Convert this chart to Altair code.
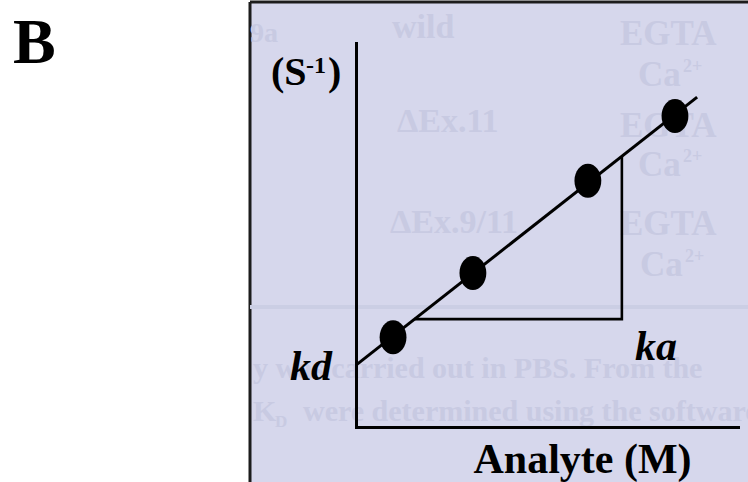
import altair as alt
import pandas as pd

# Observed association rate vs analyte concentration
conc = [0.97, 3.06, 6.07, 8.35]
rate = [2.34, 4.01, 6.41, 8.10]

# Linear fit through the points: intercept gives kd, slope gives ka
fit_x = [0.0, 8.93]
fit_y = [1.61, 8.59]

# Slope triangle hung under the fit line
tri_x = [1.53, 6.96, 6.96]
tri_y = [2.81, 2.81, 7.05]

SERIF = "Liberation Serif"
PANEL = "#d6d7ec"
GHOST = "#c8cae2"
one = pd.DataFrame({"k": [0]})

xs = alt.Scale(domain=[0, 10], nice=False, zero=False)
ys = alt.Scale(domain=[0, 10], nice=False, zero=False)

xaxis = alt.Axis(
    title="Analyte (M)", titleFont=SERIF, titleFontSize=42, titleFontWeight="bold",
    titleColor="black", titleX=226, titleY=45, titleAlign="center",
    titleBaseline="alphabetic", domainColor="black", domainWidth=3,
    domainCap="square", ticks=False, labels=False, grid=False, zindex=1,
)
yaxis = alt.Axis(
    title=None, domainColor="black", domainWidth=3, domainCap="square",
    ticks=False, labels=False, grid=False, zindex=1,
)


def xy(df):
    return dict(x=alt.X("x:Q", scale=xs, axis=xaxis), y=alt.Y("y:Q", scale=ys, axis=yaxis))


def label(text, x, y, size, color="black", style="normal", align="left"):
    return alt.Chart(one).mark_text(
        text=text, font=SERIF, fontSize=size, fontWeight="bold", fontStyle=style,
        color=color, align=align, baseline="alphabetic",
    ).encode(x=alt.value(x), y=alt.value(y))


# panel background and its top/left border
panel = alt.Chart(one).mark_rect(color=PANEL).encode(
    x=alt.value(-106), x2=alt.value(392), y=alt.value(-41), y2=alt.value(439)
)
border_left = alt.Chart(one).mark_rule(color="#1c1c1c", strokeWidth=3).encode(
    x=alt.value(-106), y=alt.value(-41), y2=alt.value(439)
)
border_top = alt.Chart(one).mark_rule(color="#1c1c1c", strokeWidth=3).encode(
    x=alt.value(-106), x2=alt.value(392), y=alt.value(-41)
)

# faint show-through from the reverse of the page
ghosts = [
    label("9a", -78, -1, 28, GHOST, align="right"),
    label("wild", 36, -5, 34, GHOST),
    label("EGTA", 264, 2, 35, GHOST),
    label("Ca", 282, 43, 35, GHOST),
    label("2+", 327, 29, 18, GHOST),
    label("ΔEx.11", 41, 89, 34, GHOST),
    label("EGTA", 264, 94, 35, GHOST),
    label("Ca", 282, 133, 35, GHOST),
    label("2+", 327, 119, 18, GHOST),
    label("ΔEx.9/11", 34, 190, 34, GHOST),
    label("EGTA", 264, 192, 35, GHOST),
    label("Ca", 284, 233, 35, GHOST),
    label("2+", 329, 219, 18, GHOST),
    label("y was carried out in PBS. From the", -103, 335, 30, GHOST),
    label("K", -103, 378, 30, GHOST),
    label("D", -81, 384, 17, GHOST),
    label("were determined using the software", -53, 378, 30, GHOST),
]
band = alt.Chart(one).mark_rule(color="#cbcee4", strokeWidth=4).encode(
    x=alt.value(-106), x2=alt.value(392), y=alt.value(264)
)

tri_df = pd.DataFrame({"x": tri_x, "y": tri_y, "o": [0, 1, 2]})
triangle = alt.Chart(tri_df).mark_line(color="black", strokeWidth=2.6).encode(
    **xy(tri_df), order="o:O"
)

fit_df = pd.DataFrame({"x": fit_x, "y": fit_y})
fit = alt.Chart(fit_df).mark_line(color="black", strokeWidth=3).encode(**xy(fit_df))

ELLIPSE = "M-0.79,0 A0.79,1 0 1,1 0.79,0 A0.79,1 0 1,1 -0.79,0 Z"
pts_df = pd.DataFrame({"x": conc, "y": rate})
points = alt.Chart(pts_df).mark_point(
    shape=ELLIPSE, filled=True, color="black", opacity=1, size=1156
).encode(**xy(pts_df))

labels = [
    label("B", -343, 20, 64),
    label("(S", -85, 42, 40),
    label("-1", -50, 30, 24),
    label(")", -28, 42, 40),
    label("kd", -66, 337, 42, style="italic"),
    label("ka", 279, 317, 42, style="italic"),
]

chart = alt.layer(
    panel, border_left, border_top, band, *ghosts, triangle, fit, points, *labels
).properties(
    width=382, height=384,
    padding={"left": 356, "top": 43, "right": 10, "bottom": 55},
    autosize=alt.AutoSizeParams(type="none"),
).configure_view(stroke=None).configure(background="white")

chart.save("out.html", embed_options={"renderer": "svg", "actions": False})
